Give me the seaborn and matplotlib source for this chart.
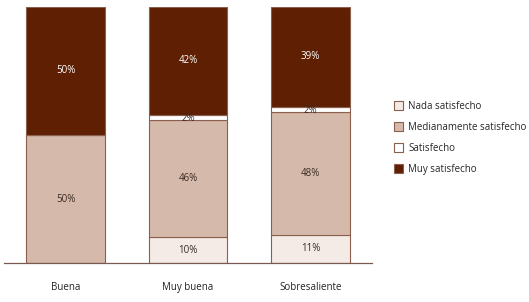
#!/usr/bin/env python3

# plot.py
#
# Stacked bar chart of satisfaction by rating category.
import matplotlib
matplotlib.use('Agg')
import matplotlib.pyplot as plt
import matplotlib.patches as mpatches
import numpy as np
import seaborn as sb

CATEGORIES = ['Buena', 'Muy buena', 'Sobresaliente']

# Percentages per category, bottom to top
NADA = [0, 10, 11]
MEDIANAMENTE = [50, 46, 48]
SATISFECHO = [0, 2, 2]
MUY = [50, 42, 39]

SERIES = [
  # Label, values, fill, text colour
  ['Nada satisfecho', NADA, '#f4ebe6', '#3a2a22'],
  ['Medianamente satisfecho', MEDIANAMENTE, '#d5b9ab', '#3a2a22'],
  ['Satisfecho', SATISFECHO, '#ffffff', '#3a2a22'],
  ['Muy satisfecho', MUY, '#5e1f03', '#ffffff'],
]

EDGE = '#8c5e4e'

sb.set_style('white')
plt.rcParams['font.family'] = ['Open Sans', 'DejaVu Sans']

figure = plt.figure(figsize=(5.29, 3.02), dpi=100)
axis = figure.add_axes([0.008, 0.129, 0.695, 0.848])

bottom = np.zeros(len(CATEGORIES))
for label, values, fill, text in SERIES:
  values = np.array(values, dtype=float)
  sb.barplot(x=CATEGORIES, y=values, bottom=bottom, color=fill, edgecolor=EDGE,
             linewidth=0.8, width=0.64, saturation=1, ax=axis)
  for ndx, value in enumerate(values):
    if value > 0:
      # Small segments get their label nudged down onto the boundary
      offset = -0.6 if value < 5 else 0
      axis.text(ndx, bottom[ndx] + value / 2 + offset, '{:.0f}%'.format(value),
                ha='center', va='center', fontsize=7, color=text)
  bottom += values

# Format the axes
axis.set_xlim(-0.5, 2.5)
axis.set_ylim(0, 100)
axis.set_yticks([])
axis.tick_params(axis='x', length=0, pad=14, labelsize=7, colors='#222222')
sb.despine(ax=axis, top=True, right=True, left=True)
axis.spines['bottom'].set_color('#7a5a50')
axis.spines['bottom'].set_linewidth(0.9)

# Legend to the right of the bars
handles = [mpatches.Patch(facecolor=fill, edgecolor=EDGE, linewidth=0.8, label=label)
           for label, values, fill, text in SERIES]
figure.legend(handles=handles, loc='upper left', bbox_to_anchor=(0.737, 0.68),
              frameon=False, fontsize=7, handlelength=1.0, handleheight=1.0,
              handletextpad=0.5, labelspacing=1.05, borderaxespad=0)

plt.savefig('out.png', dpi=100)
plt.close()
